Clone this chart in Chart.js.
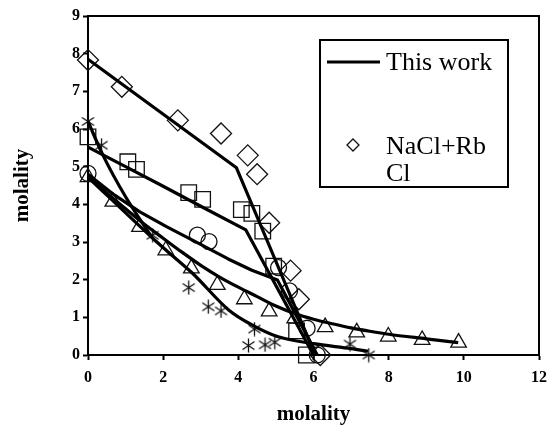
<!DOCTYPE html>
<html><head><meta charset="utf-8">
<script src="https://cdn.jsdelivr.net/npm/chart.js@4.4.0/dist/chart.umd.min.js"></script>
<style>html,body{margin:0;padding:0;background:#fff;}#wrap{width:555px;height:427px;position:relative;}</style>
</head><body><div id="wrap"><canvas id="c" width="555" height="427"></canvas></div>
<script>
// ---- data ----
const xTicks = [0, 2, 4, 6, 8, 10, 12];
const yTicks = [0, 1, 2, 3, 4, 5, 6, 7, 8, 9];
const axisTitleX = 'molality';
const axisTitleY = 'molality';
const legendLineLabel = 'This work';
const legendPointLabel = ['NaCl+Rb', 'Cl'];

const diamondX = [0, 0.9, 2.39, 3.54, 4.25, 4.5, 4.82, 5.39, 5.61, 6.18];
const diamondY = [7.83, 7.12, 6.23, 5.88, 5.3, 4.8, 3.51, 2.24, 1.48, 0];
const squareX = [0, 1.06, 1.29, 2.68, 3.05, 4.08, 4.36, 4.65, 4.94, 5.55, 5.81];
const squareY = [5.79, 5.13, 4.93, 4.31, 4.13, 3.86, 3.76, 3.29, 2.36, 0.64, 0];
const circleX = [0, 2.91, 3.22, 5.07, 5.36, 5.83, 6.1];
const circleY = [4.82, 3.18, 3.01, 2.32, 1.7, 0.71, 0];
const triangleX = [0, 0.66, 1.37, 2.07, 2.75, 3.44, 4.16, 4.82, 5.5, 6.31, 7.15, 7.99, 8.89, 9.86];
const triangleY = [4.72, 4.07, 3.40, 2.78, 2.30, 1.86, 1.48, 1.16, 0.97, 0.74, 0.6, 0.49, 0.40, 0.33];
const starX = [0, 0.36, 1.72, 2.68, 3.2, 3.54, 4.43, 4.27, 4.71, 4.97, 6.97, 7.47];
const starY = [6.2, 5.57, 3.18, 1.79, 1.28, 1.17, 0.69, 0.25, 0.27, 0.34, 0.29, 0];

// model curves ("This work")
const lineDiamondX = [0, 3.95, 6.05];
const lineDiamondY = [7.85, 4.97, 0];
const lineSquareX = [0, 1, 2, 3, 4.2, 6.0];
const lineSquareY = [5.52, 5.0, 4.48, 3.95, 3.32, 0];
const lineCircleX = [0, 0.7, 1.38, 2.1, 2.78, 3.73, 4.36, 5.04, 6.1];
const lineCircleY = [4.8, 4.25, 3.8, 3.4, 3.05, 2.55, 2.25, 1.99, 0];
const lineTriangleX = [0, 0.5, 1, 1.5, 2, 2.5, 3, 3.5, 4, 4.5, 5, 5.5, 6, 6.5, 7, 7.5, 8, 9, 9.85];
const lineTriangleY = [4.75, 4.3, 3.88, 3.47, 3.1, 2.73, 2.38, 2.07, 1.8, 1.55, 1.3, 1.1, 0.95, 0.83, 0.72, 0.63, 0.55, 0.43, 0.33];
const lineStarLowX = [0, 1.7, 2.08, 2.78, 3.75, 4.36, 5.04, 6, 7, 7.45];
const lineStarLowY = [4.72, 3.12, 2.78, 2.17, 1.19, 0.80, 0.49, 0.3, 0.17, 0.1];
const lineStarSteepX = [0, 0.4, 1.0, 1.7];
const lineStarSteepY = [6.2, 5.3, 4.2, 3.12];

const zip = (xs, ys) => xs.map((x, i) => ({x, y: ys[i]}));

// asterisk marker (vertical bar + X)
function makeStar() {
  const c = document.createElement('canvas');
  c.width = 15; c.height = 15;
  const g = c.getContext('2d');
  g.strokeStyle = '#111'; g.lineWidth = 1.3;
  g.beginPath();
  g.moveTo(7.5, 0.5); g.lineTo(7.5, 14.5);
  g.moveTo(1.5, 3.5); g.lineTo(13.5, 11.5);
  g.moveTo(13.5, 3.5); g.lineTo(1.5, 11.5);
  g.stroke();
  return c;
}
const starImg = makeStar();

const FONT = "'Liberation Serif', 'Times New Roman', serif";

const markerDS = (data, style, r) => ({
  type: 'scatter', data, showLine: false, pointStyle: style, pointRadius: r,
  pointBackgroundColor: 'rgba(0,0,0,0)', pointBorderColor: '#111', pointBorderWidth: 1.3,
  clip: false
});
const lineDS = (data, mono) => ({
  type: 'line', data, showLine: true, borderColor: '#000', borderWidth: 3.2,
  pointRadius: 0, fill: false, tension: 0,
  cubicInterpolationMode: mono ? 'monotone' : 'default', clip: false,
  borderJoinStyle: 'round', borderCapStyle: 'butt'
});

const framePlugin = {
  id: 'frame',
  afterDatasetsDraw(chart) {
    const {ctx, chartArea: a} = chart;
    ctx.save();
    ctx.strokeStyle = '#000'; ctx.lineWidth = 2;
    ctx.beginPath();
    ctx.moveTo(a.left, a.top); ctx.lineTo(a.right, a.top); ctx.lineTo(a.right, a.bottom);
    ctx.stroke();
    ctx.restore();
  }
};

const legendPlugin = {
  id: 'boxLegend',
  afterDraw(chart) {
    const ctx = chart.ctx;
    ctx.save();
    const L = 320, T = 40, R = 508, B = 187;
    ctx.fillStyle = '#fff';
    ctx.fillRect(L, T, R - L, B - T);
    ctx.strokeStyle = '#000'; ctx.lineWidth = 2;
    ctx.strokeRect(L, T, R - L, B - T);
    ctx.lineWidth = 3.2;
    ctx.beginPath(); ctx.moveTo(327, 62); ctx.lineTo(380, 62); ctx.stroke();
    ctx.fillStyle = '#000';
    ctx.font = "26px " + FONT;
    ctx.textBaseline = 'alphabetic';
    ctx.textAlign = 'left';
    ctx.fillText(legendLineLabel, 386, 70);
    ctx.fillText(legendPointLabel[0], 386, 154);
    ctx.fillText(legendPointLabel[1], 386, 181);
    // diamond marker
    ctx.lineWidth = 1.3; ctx.strokeStyle = '#111';
    ctx.beginPath();
    ctx.moveTo(353, 139); ctx.lineTo(359, 145); ctx.lineTo(353, 151); ctx.lineTo(347, 145); ctx.closePath();
    ctx.stroke();
    ctx.restore();
  }
};

new Chart(document.getElementById('c'), {
  data: {
    datasets: [
      lineDS(zip(lineDiamondX, lineDiamondY), false),
      lineDS(zip(lineSquareX, lineSquareY), false),
      lineDS(zip(lineCircleX, lineCircleY), false),
      lineDS(zip(lineTriangleX, lineTriangleY), true),
      lineDS(zip(lineStarLowX, lineStarLowY), true),
      lineDS(zip(lineStarSteepX, lineStarSteepY), true),
      markerDS(zip(diamondX, diamondY), 'rectRot', 10.5),
      markerDS(zip(squareX, squareY), 'rect', 11),
      markerDS(zip(circleX, circleY), 'circle', 8),
      markerDS(zip(triangleX, triangleY), 'triangle', 9),
      markerDS(zip(starX, starY), starImg, 7)
    ]
  },
  options: {
    responsive: false, animation: false, devicePixelRatio: 1,
    layout: {padding: {top: 16, right: 10, left: 0, bottom: 0}},
    plugins: {legend: {display: false}, tooltip: {enabled: false}},
    scales: {
      x: {
        type: 'linear', position: 'bottom', min: 0, max: 12,
        afterBuildTicks: s => { s.ticks = xTicks.map(v => ({value: v})); },
        afterFit: s => { s.height = 72; },
        ticks: {color: '#000', font: {family: FONT, size: 16, weight: 'bold'}, padding: 8, maxRotation: 0},
        grid: {drawOnChartArea: false, drawTicks: true, tickLength: 5, tickWidth: 2, tickColor: '#000'},
        border: {color: '#000', width: 2},
        title: {display: true, text: axisTitleX, color: '#000', font: {family: FONT, size: 21, weight: 'bold'}, padding: {top: 0, bottom: 0}}
      },
      y: {
        type: 'linear', position: 'left', min: 0, max: 9,
        afterBuildTicks: s => { s.ticks = yTicks.map(v => ({value: v})); },
        afterFit: s => { s.width = 88; },
        ticks: {color: '#000', font: {family: FONT, size: 16, weight: 'bold'}, padding: 3},
        grid: {drawOnChartArea: false, drawTicks: true, tickLength: 5, tickWidth: 2, tickColor: '#000'},
        border: {color: '#000', width: 2},
        title: {display: true, text: axisTitleY, color: '#000', font: {family: FONT, size: 21, weight: 'bold'}, padding: {top: 10, bottom: 0}}
      }
    }
  },
  plugins: [framePlugin, legendPlugin]
});
</script></body></html>
